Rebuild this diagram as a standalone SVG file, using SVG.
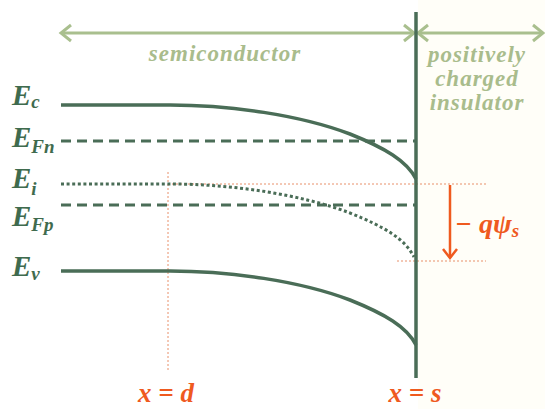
<svg xmlns="http://www.w3.org/2000/svg" width="545" height="409" viewBox="0 0 545 409">
<style>
.band{fill:none;stroke:#4a6d57;stroke-width:3.5;stroke-linecap:butt}
.dash{fill:none;stroke:#4a6d57;stroke-width:3;stroke-dasharray:10 6}
.dot{fill:none;stroke:#4a6d57;stroke-width:3;stroke-dasharray:3 2.6}
.guide{fill:none;stroke:#e8906a;stroke-width:1;stroke-dasharray:2 2}
.region{fill:none;stroke:#a9bf8e;stroke-width:3}
.elab{font-family:"Liberation Serif","Times New Roman",serif;font-weight:bold;font-style:italic;fill:#3f6b4e}
.rlab{font-family:"Liberation Serif","Times New Roman",serif;font-weight:bold;font-style:italic;fill:#a9bc8c;font-size:23px;letter-spacing:1px;text-anchor:middle}
.olab{font-family:"Liberation Serif","Times New Roman",serif;font-weight:bold;font-style:italic;fill:#ef5a1f}
</style>
<rect x="418" y="0" width="127" height="409" fill="#fffef8"/>
<g id="regions">
  <line class="region" x1="61" y1="33" x2="414" y2="33"/>
  <polyline class="region" points="71,25 61,33 71,41"/>
  <polyline class="region" points="404,25 414,33 404,41"/>
  <line class="region" x1="418" y1="33" x2="543" y2="33"/>
  <polyline class="region" points="428,25 418,33 428,41"/>
  <polyline class="region" points="533,25 543,33 533,41"/>
  <text class="rlab" x="225" y="61">semiconductor</text>
  <text class="rlab" x="477" y="62">positively</text>
  <text class="rlab" x="477" y="86">charged</text>
  <text class="rlab" x="477" y="110">insulator</text>
</g>
<g id="guides">
  <line class="guide" x1="168" y1="172" x2="168" y2="372"/>
  <line class="guide" x1="168" y1="184" x2="487" y2="184"/>
  <line class="guide" x1="397" y1="261" x2="486" y2="261"/>
</g>
<g id="Ec">
  <path class="band" d="M61,105 L170,105 C230,105 300,115 350,134 C385,148 407,161 416,179"/>
  <text class="elab" x="12" y="105" font-size="29">E<tspan font-size="19" dy="3">c</tspan></text>
</g>
<g id="EFn">
  <line class="dash" x1="61" y1="141" x2="416" y2="141"/>
  <text class="elab" x="12" y="147" font-size="29">E<tspan font-size="19" dy="6">Fn</tspan></text>
</g>
<g id="Ei">
  <path class="dot" d="M61,184 L170,184 C230,184 300,194 350,213 C385,227 405,239 414,257"/>
  <text class="elab" x="12" y="188" font-size="29">E<tspan font-size="19" dy="7">i</tspan></text>
</g>
<g id="EFp">
  <line class="dash" x1="61" y1="205" x2="416" y2="205"/>
  <text class="elab" x="12" y="226" font-size="29">E<tspan font-size="19" dy="5">Fp</tspan></text>
</g>
<g id="Ev">
  <path class="band" d="M61,271 L170,271 C230,271 300,281 350,300 C385,314 407,327 416,345"/>
  <text class="elab" x="12" y="276" font-size="29">E<tspan font-size="19" dy="4">v</tspan></text>
</g>
<g id="interface">
  <line x1="416" y1="12" x2="416" y2="378" stroke="#4a6d57" stroke-width="3.5"/>
</g>
<g id="psi">
  <line x1="450" y1="185" x2="450" y2="258" stroke="#ef5a1f" stroke-width="2.5"/>
  <polyline points="443,249 450,258 457,249" fill="none" stroke="#ef5a1f" stroke-width="2.5"/>
  <text class="olab" x="455" y="233" font-size="28">− qψ<tspan font-size="19" dy="4">s</tspan></text>
</g>
<g id="positions">
  <text class="olab" x="166" y="402" font-size="27" text-anchor="middle">x = d</text>
  <text class="olab" x="415" y="402" font-size="27" text-anchor="middle">x = s</text>
</g>
</svg>
